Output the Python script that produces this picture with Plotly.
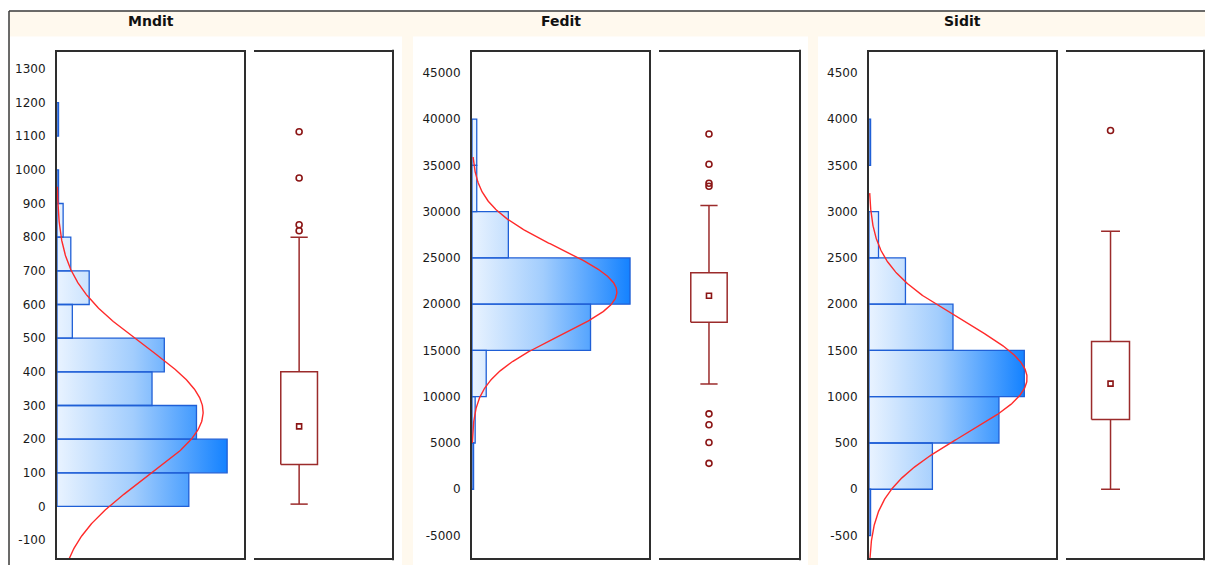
import numpy as np
import plotly.graph_objects as go

W, H = 1205, 565

# ---------------- data ----------------
# Mndit
mndit_bin_lo = [0, 100, 200, 300, 400, 500, 600, 700, 800, 900, 1000, 1100]
mndit_bin_width = 100
mndit_counts = [86, 111, 91, 62, 70, 10, 21, 9, 4, 1, 0, 1]
mndit_fit = (280, 195)            # mean, sd of the fitted normal curve
mndit_q1, mndit_q3, mndit_mean = 125, 400, 238
mndit_whisker_lo, mndit_whisker_hi = 7, 800
mndit_outliers = [1113, 976, 837, 819]
mndit_ticks = list(range(-100, 1301, 100))

# Fedit
fedit_bin_lo = [0, 5000, 10000, 15000, 20000, 25000, 30000, 35000]
fedit_bin_width = 5000
fedit_counts = [1, 2, 9, 75, 100, 23, 3, 3]
fedit_fit = (21300, 4700)
fedit_q1, fedit_q3, fedit_mean = 18048, 23386, 20910
fedit_whisker_lo, fedit_whisker_hi = 11375, 30672
fedit_outliers = [38388, 35116, 33072, 32749, 8147, 6963, 5058, 2798]
fedit_ticks = list(range(-5000, 45001, 5000))

# Sidit
sidit_bin_lo = [-500, 0, 500, 1000, 1500, 2000, 2500, 3000, 3500]
sidit_bin_width = 500
sidit_counts = [1, 40, 82, 98, 53, 23, 6, 0, 1]
sidit_fit = (1200, 608)
sidit_q1, sidit_q3, sidit_mean = 753, 1596, 1141
sidit_whisker_lo, sidit_whisker_hi = 0, 2787
sidit_outliers = [3877]
sidit_ticks = list(range(-500, 4501, 500))

# ---------------- styling / layout ----------------
BAR_LINE = "#1f5fd6"
GRADIENT = [[0, "#e9f3ff"], [0.45, "#a2cdfd"], [1, "#1482ff"]]
CURVE = "#ff2a2a"
BOX_LINE = "#9b2b2b"
POINT = "#8b1515"
FRAME = "#2e2e2e"
CREAM = "#fff9ee"
TICK_FONT = dict(family="DejaVu Sans", size=12, color="#1a1a1a")
TITLE_FONT = dict(family="DejaVu Sans", size=14, color="#111111")

Y_TOP_PX, Y_BOT_PX = 51.7, 558.3
YDOM = [1 - Y_BOT_PX / H, 1 - Y_TOP_PX / H]

panels = [
    dict(name="Mndit", lo=mndit_bin_lo, bw=mndit_bin_width, counts=mndit_counts,
         fit=mndit_fit, span=(-160, 950), yrange=[-154, 1351], ticks=mndit_ticks,
         q1=mndit_q1, q3=mndit_q3, mean=mndit_mean,
         wlo=mndit_whisker_lo, whi=mndit_whisker_hi, out=mndit_outliers,
         xmax=122, hist_px=(57, 244), box_px=(254, 392), box_c=0.327, box_w=0.266,
         cap_w=0.125, bg_px=(10, 402)),
    dict(name="Fedit", lo=fedit_bin_lo, bw=fedit_bin_width, counts=fedit_counts,
         fit=fedit_fit, span=(5000, 35900), yrange=[-7460, 47280], ticks=fedit_ticks,
         q1=fedit_q1, q3=fedit_q3, mean=fedit_mean,
         wlo=fedit_whisker_lo, whi=fedit_whisker_hi, out=fedit_outliers,
         xmax=112, hist_px=(472, 649), box_px=(659, 799), box_c=0.357, box_w=0.26,
         cap_w=0.123, bg_px=(413, 808)),
    dict(name="Sidit", lo=sidit_bin_lo, bw=sidit_bin_width, counts=sidit_counts,
         fit=sidit_fit, span=(-760, 3200), yrange=[-746, 4728], ticks=sidit_ticks,
         q1=sidit_q1, q3=sidit_q3, mean=sidit_mean,
         wlo=sidit_whisker_lo, whi=sidit_whisker_hi, out=sidit_outliers,
         xmax=118, hist_px=(869, 1056), box_px=(1066, 1203), box_c=0.325, box_w=0.277,
         cap_w=0.138, bg_px=(818, 1205)),
]

fig = go.Figure()
layout = {}
shapes = []
annotations = []

# page background: cream header band and white panel areas with a dark frame
shapes.append(dict(type="rect", xref="paper", yref="paper", x0=9 / W, x1=1,
                   y0=0, y1=1 - 11 / H, fillcolor=CREAM, line_width=0, layer="below"))

for i, p in enumerate(panels):
    hx, hy = f"x{2 * i + 1}", f"y{2 * i + 1}"
    bx, by = f"x{2 * i + 2}", f"y{2 * i + 2}"
    hkey = "" if i == 0 else str(2 * i + 1)
    bkey = str(2 * i + 2)

    shapes.append(dict(type="rect", xref="paper", yref="paper",
                       x0=p["bg_px"][0] / W, x1=p["bg_px"][1] / W,
                       y0=0, y1=1 - 36.5 / H, fillcolor="white", line_width=0,
                       layer="below"))

    # histogram bars as filled outlines (gradient runs along the count axis)
    xs, ys = [], []
    for lo, c in zip(p["lo"], p["counts"]):
        if c <= 0:
            continue
        hi = lo + p["bw"]
        xs += [0, c, c, 0, 0, None]
        ys += [lo, lo, hi, hi, lo, None]
    fig.add_trace(go.Scatter(
        x=xs, y=ys, xaxis=hx, yaxis=hy, mode="lines", fill="toself",
        fillgradient=dict(type="horizontal", colorscale=GRADIENT,
                          start=0, stop=max(p["counts"])),
        line=dict(color=BAR_LINE, width=1.3), hoverinfo="skip", showlegend=False))

    # fitted normal curve scaled to the histogram
    m, s = p["fit"]
    n = sum(p["counts"])
    yy = np.linspace(p["span"][0], p["span"][1], 400)
    dens = n * p["bw"] * np.exp(-0.5 * ((yy - m) / s) ** 2) / (s * np.sqrt(2 * np.pi))
    fig.add_trace(go.Scatter(x=dens, y=yy, xaxis=hx, yaxis=hy, mode="lines",
                             line=dict(color=CURVE, width=1.4), hoverinfo="skip",
                             showlegend=False))

    # box plot
    c, w, cw = p["box_c"], p["box_w"], p["cap_w"]
    fig.add_trace(go.Scatter(
        x=[c - w / 2, c + w / 2, c + w / 2, c - w / 2, c - w / 2,
           None, c, c, None, c, c,
           None, c - cw / 2, c + cw / 2, None, c - cw / 2, c + cw / 2],
        y=[p["q1"], p["q1"], p["q3"], p["q3"], p["q1"],
           None, p["q3"], p["whi"], None, p["q1"], p["wlo"],
           None, p["whi"], p["whi"], None, p["wlo"], p["wlo"]],
        xaxis=bx, yaxis=by, mode="lines", line=dict(color=BOX_LINE, width=1.5),
        hoverinfo="skip", showlegend=False))
    fig.add_trace(go.Scatter(
        x=[c] * len(p["out"]), y=p["out"], xaxis=bx, yaxis=by, mode="markers",
        marker=dict(symbol="circle-open", size=6, color=POINT, line=dict(width=1.6)),
        hoverinfo="skip", showlegend=False))
    fig.add_trace(go.Scatter(
        x=[c], y=[p["mean"]], xaxis=bx, yaxis=by, mode="markers",
        marker=dict(symbol="square-open", size=5, color=POINT, line=dict(width=1.6)),
        hoverinfo="skip", showlegend=False))

    # axes
    layout["xaxis" + hkey] = dict(
        domain=[p["hist_px"][0] / W, p["hist_px"][1] / W], range=[0, p["xmax"]],
        anchor=hy, showline=True, mirror=True, linecolor=FRAME, linewidth=2,
        showgrid=False, zeroline=False, showticklabels=False, ticks="")
    layout["yaxis" + hkey] = dict(
        domain=YDOM, range=p["yrange"], anchor=hx, showline=True, mirror=True,
        linecolor=FRAME, linewidth=2, showgrid=False, zeroline=False,
        tickmode="array", tickvals=p["ticks"], ticktext=[str(t) for t in p["ticks"]],
        ticks="", tickfont=TICK_FONT, ticklabelstandoff=7)
    layout["xaxis" + bkey] = dict(
        domain=[p["box_px"][0] / W, p["box_px"][1] / W], range=[0, 1],
        anchor=by, showline=True, mirror=True, linecolor=FRAME, linewidth=2,
        showgrid=False, zeroline=False, showticklabels=False, ticks="")
    layout["yaxis" + bkey] = dict(
        domain=YDOM, range=p["yrange"], anchor=bx, showline=False,
        showgrid=False, zeroline=False, showticklabels=False, ticks="")

    # right-hand border of the box-plot panel (open on the left)
    bw_px = p["box_px"][1] - p["box_px"][0]
    shapes.append(dict(type="line", xref=f"{bx} domain", yref=f"{by} domain",
                       x0=1 + 1 / bw_px, x1=1 + 1 / bw_px,
                       y0=-2 / 507, y1=1 + 2 / 507,
                       line=dict(color=FRAME, width=2)))

    annotations.append(dict(
        text=f"<b>{p['name']}</b>", xref="paper", yref="paper",
        x=(p["hist_px"][0] + p["hist_px"][1]) / 2 / W, y=1 - 20.5 / H,
        xanchor="center", yanchor="middle", showarrow=False, font=TITLE_FONT))

# dark frame lines along the top and left of the page area
shapes.append(dict(type="line", xref="paper", yref="paper", x0=9 / W, x1=1,
                   y0=1 - 11 / H, y1=1 - 11 / H, line=dict(color="#3a3a3a", width=1.5)))
shapes.append(dict(type="line", xref="paper", yref="paper", x0=9 / W, x1=9 / W,
                   y0=0, y1=1 - 11 / H, line=dict(color="#3a3a3a", width=1.5)))

fig.update_layout(
    width=W, height=H, margin=dict(l=0, r=0, t=0, b=0),
    paper_bgcolor="white", plot_bgcolor="white",
    shapes=shapes, annotations=annotations, showlegend=False,
    **layout)

fig.write_html("out.html", config={"displayModeBar": False})
